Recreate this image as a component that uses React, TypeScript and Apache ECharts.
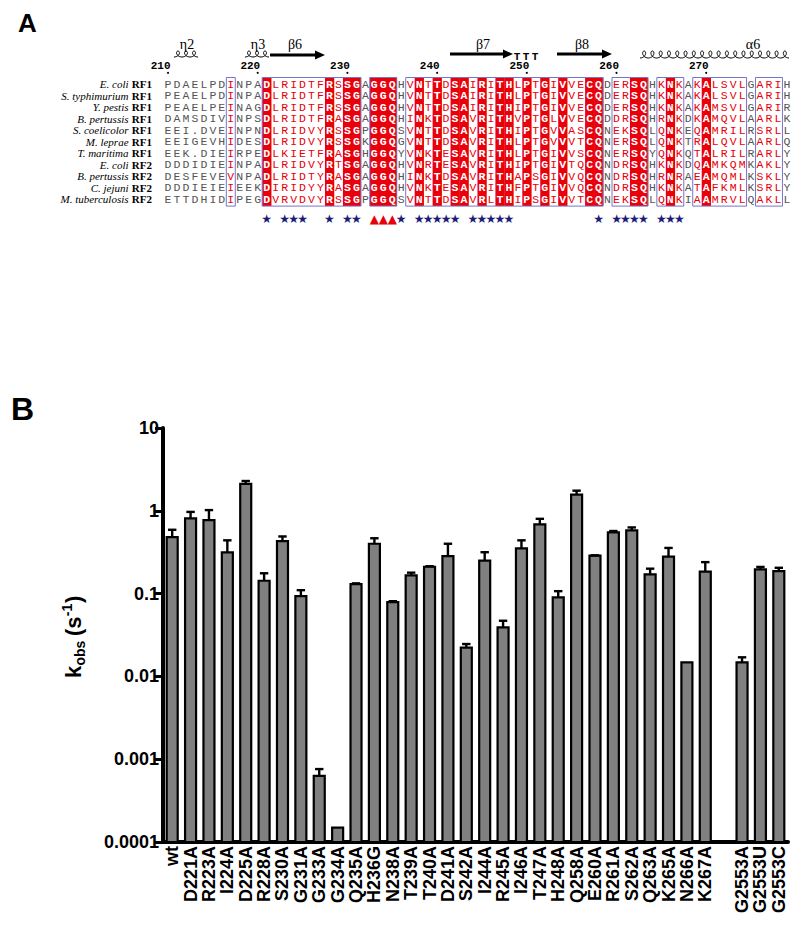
import React, { useEffect, useRef } from 'react';
import * as echarts from 'echarts';

// ---------------- Panel B data ----------------
const categories = ['wt', 'D221A', 'R223A', 'I224A', 'D225A', 'R228A', 'S230A', 'G231A', 'G233A', 'G234A', 'Q235A', 'H236G', 'N238A', 'T239A', 'T240A', 'D241A', 'S242A', 'I244A', 'R245A', 'I246A', 'T247A', 'H248A', 'Q258A', 'E260A', 'R261A', 'S262A', 'Q263A', 'K265A', 'N266A', 'K267A', '', 'G2553A', 'G2553U', 'G2553C'];
const kobs = [0.48, 0.81, 0.77, 0.315, 2.11, 0.143, 0.43, 0.093, 0.00063, 0.000149, 0.13, 0.40, 0.079, 0.166, 0.211, 0.284, 0.0222, 0.25, 0.039, 0.352, 0.687, 0.090, 1.57, 0.288, 0.55, 0.58, 0.171, 0.28, 0.0148, 0.184, null, 0.0148, 0.196, 0.187];
const kobsErrTop = [0.59, 0.97, 1.02, 0.44, 2.29, 0.176, 0.49, 0.11, 0.00076, null, 0.133, 0.466, 0.081, 0.179, 0.214, 0.40, 0.0246, 0.316, 0.047, 0.44, 0.80, 0.107, 1.75, 0.29, 0.57, 0.63, 0.20, 0.356, null, 0.24, null, 0.017, 0.21, 0.205];
const yMin = 0.0001;
const yMax = 10;

// ---------------- Panel A data ----------------
const firstResidue = 210;
const speciesNames = ['E. coli', 'S. typhimurium', 'Y. pestis', 'B. pertussis', 'S. coelicolor', 'M. leprae', 'T. maritima', 'E. coli', 'B. pertussis', 'C. jejuni', 'M. tuberculosis'];
const factorNames = ['RF1', 'RF1', 'RF1', 'RF1', 'RF1', 'RF1', 'RF1', 'RF2', 'RF2', 'RF2', 'RF2'];
const alignment = [
  'PDAELPDINPA' + 'DLRIDTFRSSGA' + 'GGQHVNTTDSAIRITHLPTGIVVECQDERSQHKNKAKALSVLGARIH',
  'PEAELPDINPA' + 'DLRIDTFRSSGA' + 'GGQHVNTTDSAIRITHLPTGIVVECQDERSQHKNKAKALSVLGARIH',
  'PEAELPEINAG' + 'DLRIDTFRSSGA' + 'GGQHVNTTDSAIRITHIPTGIVVECQDERSQHKNKAKAMSVLGARIR',
  'DAMSDIVINPS' + 'DLRIDTFRASGA' + 'GGQHINKTDSAVRITHVPTGLVVECQDDRSQHRNKDKAMQVLAARLK',
  'EEI.DVEINPN' + 'DLRIDVYRSSGP' + 'GGQSVNTTDSAVRITHIPTGVVASCQNEKSQLQNKEQAMRILRSRLL',
  'EEIGEVHIDES' + 'DLRIDVYRSSGK' + 'GGQGVNTTDSAVRITHLPTGVVVTCQNERSQLQNKTRALQVLAARLQ',
  'EEK.DIEIRPE' + 'DLKIETFRASGH' + 'GGQYVNKTESAVRITHLPTGIVVSCQNERSQYQNKQTALRILRARLY',
  'DDDIDIEINPA' + 'DLRIDVYRTSGA' + 'GGQHVNRTESAVRITHIPTGIVTQCQNDRSQHKNKDQAMKQMKAKLY',
  'DESFEVEVNPA' + 'DLRIDTYRASGA' + 'GGQHINKTDSAVRITHAPSGIVVQCQNDRSQHRNRAEAMQMLKSKLY',
  'DDDIEIEIEEK' + 'DIRIDYYRASGA' + 'GGQHVNKTESAVRITHFPTGIVVQCQNDRSQHKNKATAFKMLKSRLY',
  'ETTDHIDIPEG' + 'DVRVDVYRSSGP' + 'GGQSVNTTDSAVRLTHIPSGIVVTCQNEKSQLQNKIAAMRVLQAKLL',
];
const rulerMarks = [210, 220, 230, 240, 250, 260, 270];
const similarityBlocks = [[217, 217], [221, 231], [233, 235], [237, 258], [260, 263], [265, 267], [269, 274], [276, 278]];
const starPositions = [221, 223, 224, 225, 228, 230, 231, 236, 238, 239, 240, 241, 242, 244, 245, 246, 247, 248, 258, 260, 261, 262, 263, 265, 266, 267];
const trianglePositions = [233, 234, 235];

// ---------------- layout helpers ----------------
const COL0_X = 168;
const COL_W = 8.97;
const ROW0_Y = 84.3;
const ROW_H = 11.5;
const cx = (res: number) => COL0_X + (res - firstResidue) * COL_W;
const ry = (r: number) => ROW0_Y + r * ROW_H;

const RED = '#e8000b';
const NAVY = '#1c1c78';
const BOXBLUE = '#7474c8';

// cursive "ℓℓℓ" helix drawing: loops at the top, joined at the baseline
function coilPoints(x0: number, x1: number, yb: number, h: number) {
  const n = Math.max(1, Math.round((x1 - x0) / 8.2));
  const P = (x1 - x0) / n;
  const d = P * 0.4;
  const pts: number[][] = [];
  for (let k = 0; k <= n * 24; k++) {
    const t = Math.PI + (k * Math.PI) / 12;
    pts.push([x0 + (P * (t - Math.PI)) / (2 * Math.PI) - d * Math.sin(t), yb - (h * (1 + Math.cos(t))) / 2]);
  }
  return pts;
}

function arrow(x0: number, x1: number, y: number) {
  return {
    type: 'polygon',
    silent: true,
    shape: {
      points: [[x0, y - 1.5], [x1 - 10, y - 1.5], [x1 - 10, y - 4.5], [x1, y], [x1 - 10, y + 4.5], [x1 - 10, y + 1.5], [x0, y + 1.5]],
    },
    style: { fill: '#000' },
  };
}

function ssLabel(text: string, x: number) {
  return {
    type: 'text',
    silent: true,
    x,
    y: 44,
    style: { text, fill: '#000', fontSize: 14, fontFamily: 'Liberation Serif', align: 'center', verticalAlign: 'middle' },
  };
}

function buildAlignmentGraphics() {
  const els: any[] = [];
  const nRows = alignment.length;
  const nCols = alignment[0].length;
  const top = ry(0) - 6.8;
  const bottom = ry(nRows - 1) + 6.8;
  const inBlock = (res: number) => similarityBlocks.some(([a, b]) => res >= a && res <= b);

  // identity columns: red background
  const identity: boolean[] = [];
  for (let c = 0; c < nCols; c++) {
    const ch = alignment[0][c];
    identity[c] = alignment.every((s) => s[c] === ch);
    if (identity[c]) {
      els.push({
        type: 'rect', silent: true,
        shape: { x: cx(firstResidue + c) - COL_W / 2, y: top, width: COL_W + 0.3, height: bottom - top },
        style: { fill: RED },
      });
    }
  }
  // similarity boxes
  similarityBlocks.forEach(([a, b]) => {
    els.push({
      type: 'rect', silent: true,
      shape: { x: cx(a) - COL_W / 2, y: top, width: (b - a + 1) * COL_W, height: bottom - top },
      style: { fill: 'none', stroke: BOXBLUE, lineWidth: 1 },
    });
  });
  // residues
  alignment.forEach((seq, r) => {
    for (let c = 0; c < seq.length; c++) {
      const res = firstResidue + c;
      const idt = identity[c];
      const sim = !idt && inBlock(res);
      els.push({
        type: 'text', silent: true,
        x: cx(res), y: ry(r),
        style: {
          text: seq[c],
          fill: idt ? '#fff' : sim ? RED : '#555',
          fontSize: 11.5,
          fontWeight: idt ? 'bold' : 'normal',
          fontFamily: 'Liberation Mono',
          align: 'center', verticalAlign: 'middle',
        },
      });
    }
  });
  // species labels
  speciesNames.forEach((name, r) => {
    els.push({
      type: 'text', silent: true,
      x: 152, y: ry(r),
      style: {
        text: `{i|${name}} {b|${factorNames[r]}}`,
        align: 'right', verticalAlign: 'middle',
        rich: {
          i: { fontStyle: 'italic', fontSize: 11, fontFamily: 'Liberation Serif', fill: '#000' },
          b: { fontWeight: 'bold', fontSize: 11, fontFamily: 'Liberation Serif', fill: '#000' },
        },
      },
    });
  });
  // ruler
  rulerMarks.forEach((m) => {
    els.push({
      type: 'text', silent: true, x: cx(m) + 2.5, y: 66,
      style: { text: String(m), fill: '#000', fontSize: 11, fontWeight: 'bold', fontFamily: 'Liberation Mono', align: 'right', verticalAlign: 'middle' },
    });
    els.push({ type: 'circle', silent: true, shape: { cx: cx(m), cy: 72.8, r: 1 }, style: { fill: '#000' } });
  });
  // stars & triangles
  starPositions.forEach((p) => {
    els.push({
      type: 'text', silent: true, x: cx(p), y: 219,
      style: { text: '★', fill: NAVY, fontSize: 12, fontFamily: 'DejaVu Sans', align: 'center', verticalAlign: 'middle' },
    });
  });
  trianglePositions.forEach((p) => {
    els.push({
      type: 'text', silent: true, x: cx(p), y: 218.5,
      style: { text: '▲', fill: RED, fontSize: 12, fontFamily: 'DejaVu Sans', align: 'center', verticalAlign: 'middle' },
    });
  });
  // secondary structure
  const coil = (x0: number, x1: number, yb: number, h: number) => ({
    type: 'polyline', silent: true, shape: { points: coilPoints(x0, x1, yb, h) }, style: { stroke: '#000', lineWidth: 1, fill: 'none' },
  });
  els.push(ssLabel('η2', 187));
  els.push(coil(174, 198, 57, 6));
  els.push(ssLabel('η3', 258));
  els.push(coil(245, 269, 57, 6));
  els.push(ssLabel('β6', 295));
  els.push(arrow(270, 325, 55));
  els.push(ssLabel('β7', 483));
  els.push(arrow(450, 513, 54));
  [517, 526, 535].forEach((x) => {
    els.push({ type: 'text', silent: true, x, y: 57, style: { text: 'T', fill: '#000', fontSize: 11, fontWeight: 'bold', fontFamily: 'Liberation Mono', align: 'center', verticalAlign: 'middle' } });
  });
  els.push(ssLabel('β8', 582));
  els.push(arrow(557, 612, 54));
  els.push(ssLabel('α6', 753));
  els.push(coil(640, 789, 58, 7));
  return els;
}

function buildYTitle() {
  const f = 'Liberation Sans';
  const t = (text: string, x: number, y: number, size: number) => ({
    type: 'text', silent: true, x, y,
    style: { text, fill: '#000', fontSize: size, fontWeight: 'bold', fontFamily: f, align: 'left', verticalAlign: 'middle' },
  });
  return {
    type: 'group', x: 81, y: 678, rotation: Math.PI / 2, silent: true,
    children: [
      t('k', 0, -7.7, 22),
      t('obs', 12.5, -1.5, 14),
      t('(', 42, -7.7, 22),
      t('s', 49.3, -7.7, 22),
      t('-1', 61.8, -14, 14),
      t(')', 75, -7.7, 22),
    ],
  };
}

export default function App() {
  const ref = useRef<HTMLDivElement>(null);
  useEffect(() => {
    const chart = echarts.init(ref.current!, null, { renderer: 'svg' });
    const barData = kobs.map((v, i) => (v == null ? null : [i, v])).filter((d) => d != null);
    const errData = kobs
      .map((v, i) => (v == null || kobsErrTop[i] == null ? null : [i, v, kobsErrTop[i]]))
      .filter((d) => d != null);
    const option: any = {
      animation: false,
      backgroundColor: '#fff',
      grid: { left: 163, right: 12, top: 428, bottom: 88 },
      xAxis: {
        type: 'category',
        data: categories,
        axisLine: { onZero: false, lineStyle: { color: '#000', width: 4 } },
        axisTick: {
          alignWithLabel: true, length: 9,
          lineStyle: { color: '#000', width: 3 },
          interval: (index: number, value: string) => value !== '',
        },
        axisLabel: {
          interval: 0, rotate: 90, margin: 4,
          fontSize: 18, fontWeight: 'bold', fontFamily: 'Liberation Sans', color: '#000',
        },
      },
      yAxis: {
        type: 'log',
        logBase: 10,
        min: yMin,
        max: yMax,
        axisLine: { show: true, lineStyle: { color: '#000', width: 4 } },
        axisTick: { show: true, length: 8, lineStyle: { color: '#000', width: 3 } },
        splitLine: { show: false },
        minorTick: { show: false },
        axisLabel: {
          margin: 4, fontSize: 18, fontWeight: 'bold', fontFamily: 'Liberation Sans', color: '#000',
          formatter: (v: number) => String(Number(v.toPrecision(2))),
        },
      },
      series: [
        {
          type: 'custom',
          data: barData,
          encode: { x: 0, y: 1 },
          clip: false,
          z: 2,
          renderItem: (params: any, api: any) => {
            const i = api.value(0);
            const v = api.value(1);
            const topPt = api.coord([i, v]);
            const basePt = api.coord([i, yMin]);
            const w = 11;
            return {
              type: 'rect',
              shape: { x: topPt[0] - w / 2, y: topPt[1], width: w, height: basePt[1] - topPt[1] },
              style: { fill: '#808080', stroke: '#000', lineWidth: 2.2 },
            };
          },
        },
        {
          type: 'custom',
          data: errData,
          encode: { x: 0, y: 1 },
          clip: false,
          z: 3,
          renderItem: (params: any, api: any) => {
            const i = api.value(0);
            const p0 = api.coord([i, api.value(1)]);
            const p1 = api.coord([i, api.value(2)]);
            return {
              type: 'group',
              children: [
                { type: 'line', shape: { x1: p0[0], y1: p0[1], x2: p0[0], y2: p1[1] }, style: { stroke: '#000', lineWidth: 2.4 } },
                { type: 'line', shape: { x1: p0[0] - 4.2, y1: p1[1], x2: p0[0] + 4.2, y2: p1[1] }, style: { stroke: '#000', lineWidth: 2.4 } },
              ],
            };
          },
        },
      ],
      graphic: [
        { type: 'text', silent: true, x: 18, y: 22.5, style: { text: 'A', fill: '#000', fontSize: 26, fontWeight: 'bold', fontFamily: 'Liberation Sans', align: 'left', verticalAlign: 'middle' } },
        { type: 'text', silent: true, x: 11, y: 408.5, style: { text: 'B', fill: '#000', fontSize: 32, fontWeight: 'bold', fontFamily: 'Liberation Sans', align: 'left', verticalAlign: 'middle' } },
        buildYTitle(),
        ...buildAlignmentGraphics(),
      ],
    };
    chart.setOption(option);
    return () => chart.dispose();
  }, []);
  return <div ref={ref} style={{ position: 'fixed', left: 0, top: 0, width: 800, height: 930, background: '#fff' }} />;
}
